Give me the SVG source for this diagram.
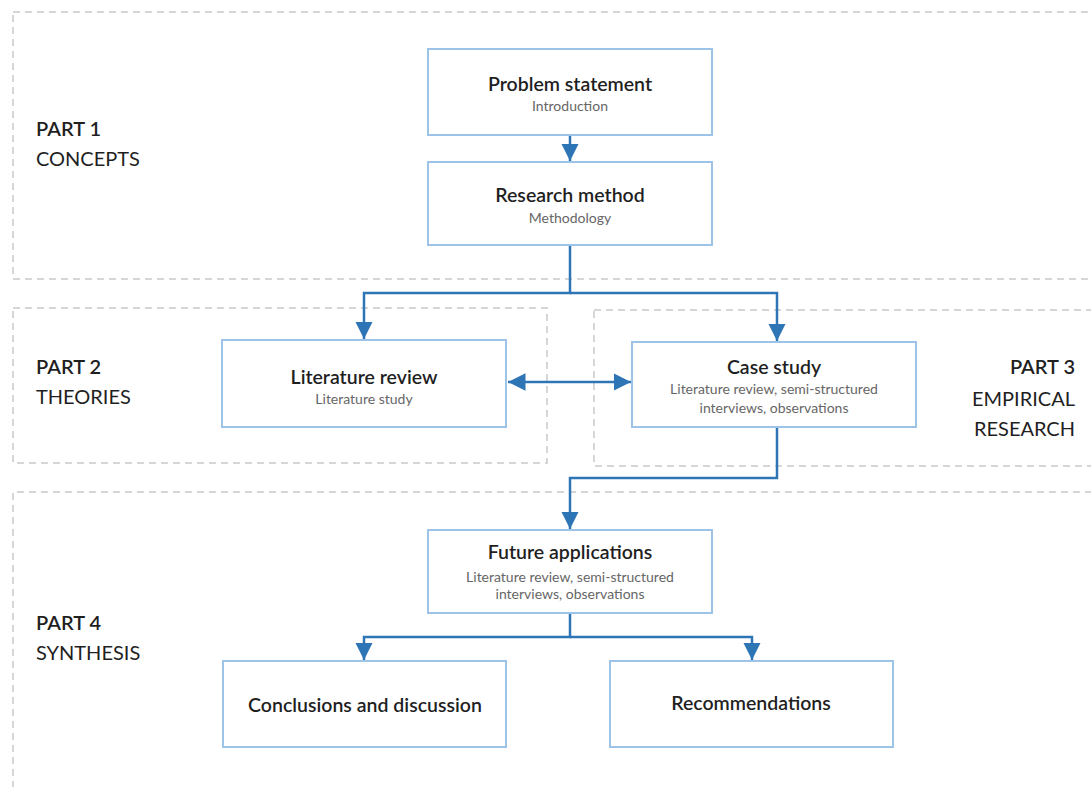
<svg xmlns="http://www.w3.org/2000/svg" width="1091" height="787" viewBox="0 0 1091 787">
  <style>
    .part { fill: none; stroke: #c9c9c9; stroke-width: 1.5; stroke-dasharray: 7 5; }
    .box { fill: #ffffff; stroke: #9dc3e6; stroke-width: 2; }
    .title { font-family: Lato, "Open Sans", sans-serif; font-size: 19.5px; font-weight: 600; fill: #1f1f1f; text-anchor: middle; }
    .sub { font-family: Lato, "Open Sans", sans-serif; font-size: 14px; fill: #666666; text-anchor: middle; }
    .plabel { font-family: Lato, "Open Sans", sans-serif; font-size: 20px; fill: #1f1f1f; }
    .bold { font-weight: 600; }
    .conn { fill: none; stroke: #2e75b6; stroke-width: 2.5; }
  </style>
  <defs>
    <marker id="arrow" viewBox="0 0 10 10" refX="10" refY="5" markerWidth="7" markerHeight="7" markerUnits="strokeWidth" orient="auto-start-reverse">
      <path d="M0,0 L10,5 L0,10 z" fill="#2e75b6"/>
    </marker>
  </defs>
  <rect width="1091" height="787" fill="#ffffff"/>

  <!-- section frames -->
  <g id="parts">
    <rect class="part" x="13" y="12" width="1100" height="267"/>
    <rect class="part" x="13" y="308" width="534" height="155"/>
    <rect class="part" x="594" y="310" width="520" height="156"/>
    <path class="part" d="M13,800 L13,492 L1100,492"/>
  </g>

  <!-- section labels -->
  <g id="part-labels">
    <text class="plabel" x="36" y="136"><tspan class="bold">PART 1</tspan><tspan x="36" y="166">CONCEPTS</tspan></text>
    <text class="plabel" x="36" y="374"><tspan class="bold">PART 2</tspan><tspan x="36" y="404">THEORIES</tspan></text>
    <text class="plabel" x="1075" y="374" text-anchor="end"><tspan class="bold">PART 3</tspan><tspan x="1075" y="406">EMPIRICAL</tspan><tspan x="1075" y="436">RESEARCH</tspan></text>
    <text class="plabel" x="36" y="630"><tspan class="bold">PART 4</tspan><tspan x="36" y="660">SYNTHESIS</tspan></text>
  </g>

  <!-- connectors -->
  <g id="connectors">
    <line class="conn" x1="570" y1="135" x2="570" y2="161" marker-end="url(#arrow)"/>
    <path class="conn" d="M570,245 L570,293 L364,293 L364,339" marker-end="url(#arrow)"/>
    <path class="conn" d="M570,293 L777,293 L777,341" marker-end="url(#arrow)"/>
    <line class="conn" x1="508" y1="382" x2="631" y2="382" marker-start="url(#arrow)" marker-end="url(#arrow)"/>
    <path class="conn" d="M777,427 L777,478 L570,478 L570,529" marker-end="url(#arrow)"/>
    <path class="conn" d="M570,613 L570,637 L364,637 L364,660" marker-end="url(#arrow)"/>
    <path class="conn" d="M570,637 L752,637 L752,660" marker-end="url(#arrow)"/>
  </g>

  <!-- nodes -->
  <g id="problem-statement">
    <rect class="box" x="428" y="49" width="284" height="86"/>
    <text class="title" x="570" y="91">Problem statement</text>
    <text class="sub" x="570" y="111">Introduction</text>
  </g>
  <g id="research-method">
    <rect class="box" x="428" y="162" width="284" height="83"/>
    <text class="title" x="570" y="202">Research method</text>
    <text class="sub" x="570" y="223">Methodology</text>
  </g>
  <g id="literature-review">
    <rect class="box" x="222" y="340" width="284" height="87"/>
    <text class="title" x="364" y="384">Literature review</text>
    <text class="sub" x="364" y="404">Literature study</text>
  </g>
  <g id="case-study">
    <rect class="box" x="632" y="342" width="284" height="85"/>
    <text class="title" x="774" y="374">Case study</text>
    <text class="sub" x="774" y="394">Literature review, semi-structured</text>
    <text class="sub" x="774" y="413">interviews, observations</text>
  </g>
  <g id="future-applications">
    <rect class="box" x="428" y="530" width="284" height="83"/>
    <text class="title" x="570" y="559">Future applications</text>
    <text class="sub" x="570" y="582">Literature review, semi-structured</text>
    <text class="sub" x="570" y="599">interviews, observations</text>
  </g>
  <g id="conclusions">
    <rect class="box" x="223" y="661" width="283" height="86"/>
    <text class="title" x="365" y="712">Conclusions and discussion</text>
  </g>
  <g id="recommendations">
    <rect class="box" x="610" y="661" width="283" height="86"/>
    <text class="title" x="751" y="710">Recommendations</text>
  </g>
</svg>
